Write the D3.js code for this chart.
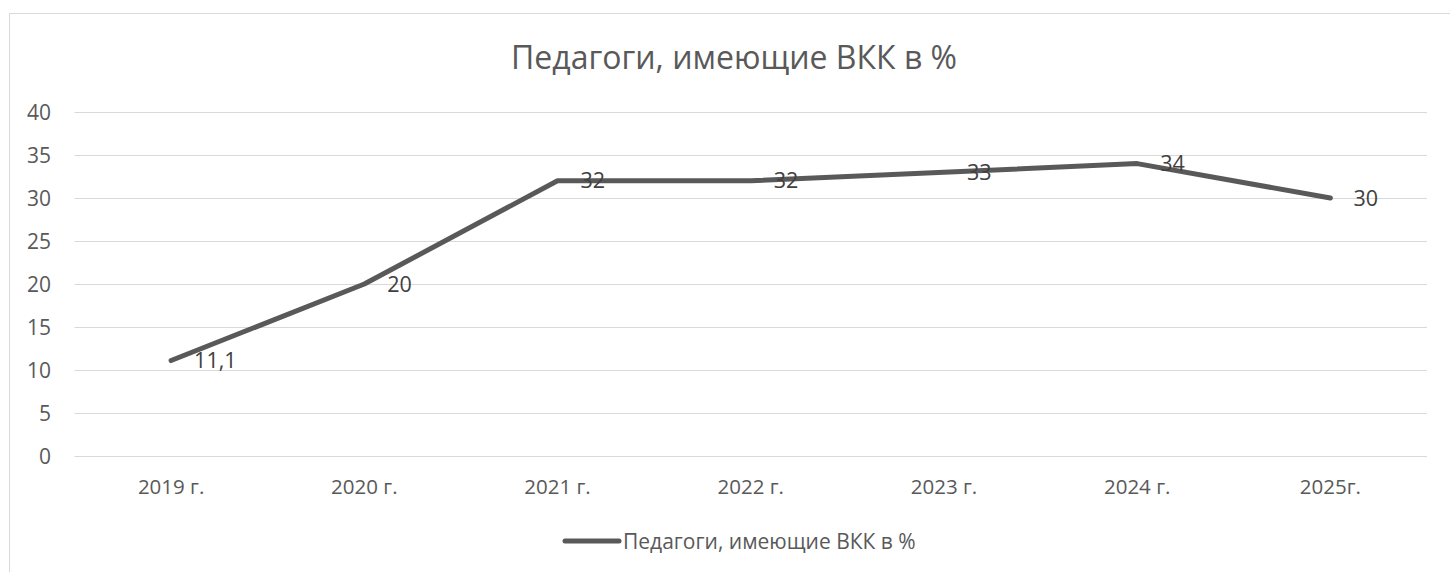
<!DOCTYPE html>
<html><head><meta charset="utf-8">
<script src="https://cdn.jsdelivr.net/npm/d3@7"></script>
<style>body{margin:0;background:#fff;} svg{display:block;font-family:"Open Sans",sans-serif;}</style>
</head><body>
<svg id="c" width="1450" height="572"></svg>
<script>
const categories = ["2019 г.","2020 г.","2021 г.","2022 г.","2023 г.","2024 г.","2025г."];
const values = [11.1, 20, 32, 32, 33, 34, 30];
const labels = ["11,1","20","32","32","33","34","30"];
const yTicks = [0,5,10,15,20,25,30,35,40];
const seriesName = "Педагоги, имеющие ВКК в %";
const title = "Педагоги, имеющие ВКК в %";

const svg = d3.select("#c");
svg.append("rect").attr("x",9.5).attr("y",13.5).attr("width",1460).attr("height",600)
  .attr("fill","#fff").attr("stroke","#d9d9d9").attr("stroke-width",1);

const x = d3.scaleBand().domain(categories).range([74.5,1427]);
const y = d3.scaleLinear().domain([0,40]).range([456,112]);

svg.append("text").attr("x",734).attr("y",69).attr("text-anchor","middle")
  .attr("font-size",32).attr("fill","#595959").text(title);

const grid = svg.append("g");
grid.selectAll("line").data(yTicks).join("line")
  .attr("x1",74.5).attr("x2",1427).attr("y1",d=>Math.round(y(d))+0.5).attr("y2",d=>Math.round(y(d))+0.5)
  .attr("stroke","#d9d9d9").attr("stroke-width",1);

const yAxis = d3.axisLeft(y).tickValues(yTicks).tickSize(0).tickPadding(0);
const gy = svg.append("g").attr("transform","translate(51,0)").call(yAxis);
gy.select(".domain").remove();
gy.selectAll("text").attr("font-size",21).attr("fill","#595959").attr("font-family","Open Sans").attr("dy","0.35em");

const xAxis = d3.axisBottom(x).tickSize(0).tickPadding(0);
const gx = svg.append("g").attr("transform","translate(0,487)").call(xAxis);
gx.select(".domain").remove();
gx.selectAll("text").attr("font-size",20.5).attr("fill","#595959").attr("font-family","Open Sans").attr("dy","0.35em");

const cx = d => x(d) + x.bandwidth()/2;
const line = d3.line().x((d,i)=>cx(categories[i])).y(d=>y(d));
svg.append("path").datum(values).attr("d",line).attr("fill","none")
  .attr("stroke","#595959").attr("stroke-width",5).attr("stroke-linecap","round").attr("stroke-linejoin","round");

svg.append("g").selectAll("text").data(values).join("text")
  .attr("x",(d,i)=>cx(categories[i])+23).attr("y",d=>y(d)).attr("dy","0.35em")
  .attr("font-size",21.5).attr("fill","#404040").text((d,i)=>labels[i]);

const lg = svg.append("g");
lg.append("line").attr("x1",565).attr("x2",619).attr("y1",541).attr("y2",541)
  .attr("stroke","#595959").attr("stroke-width",5).attr("stroke-linecap","round");
lg.append("text").attr("x",623).attr("y",549).attr("font-size",21)
  .attr("fill","#595959").text(seriesName);
</script>
</body></html>
